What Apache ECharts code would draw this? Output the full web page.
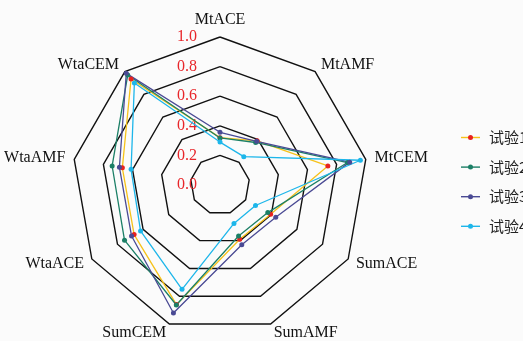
<!DOCTYPE html>
<html>
<head>
<meta charset="utf-8">
<script src="https://cdn.jsdelivr.net/npm/echarts@6/dist/echarts.min.js"></script>
<style>
  html, body { margin: 0; padding: 0; background: #fbfbfb; }
  #chart { width: 523px; height: 341px; }
</style>
</head>
<body>
<div id="chart"></div>
<script>
// Indicators, listed clockwise from the top
const indicators = ['MtACE', 'MtAMF', 'MtCEM', 'SumACE', 'SumAMF', 'SumCEM', 'WtaACE', 'WtaAMF', 'WtaCEM'];
const seriesNames = ['试验1', '试验2', '试验3', '试验4'];

// Values per trial, same order as indicators
const trial1 = [0.32, 0.39, 0.74, 0.395, 0.39, 0.86, 0.67, 0.67, 0.935];
const trial2 = [0.318, 0.375, 0.875, 0.373, 0.367, 0.863, 0.745, 0.74, 0.97];
const trial3 = [0.356, 0.385, 0.89, 0.435, 0.43, 0.92, 0.69, 0.69, 0.985];
const trial4 = [0.29, 0.25, 0.963, 0.277, 0.276, 0.75, 0.62, 0.61, 0.90];

// Radial tick labels
const radialTicks = ['0.0', '0.2', '0.4', '0.6', '0.8', '1.0'];

const lineColors = ['#f6c21a', '#1b7f66', '#4a4a94', '#1db6ea'];
const dotColors  = ['#e8221f', '#1b7f66', '#4a4a94', '#1db6ea'];

// ECharts lays radar axes out counter-clockwise, so walk the list backwards
const order = [0].concat(indicators.map((_, i) => i).slice(1).reverse());
const allData = [trial1, trial2, trial3, trial4];

const center = [220, 185];
const radius = 148;
const serif = 'Liberation Serif, Times New Roman, serif';

const chart = echarts.init(document.getElementById('chart'), null, { renderer: 'canvas' });

const legendBase = {
  orient: 'vertical',
  left: 461,
  top: 130,
  padding: 0,
  itemWidth: 23,
  itemHeight: 14,
  itemGap: 14.6
};

chart.setOption({
  animation: false,
  backgroundColor: '#fbfbfb',
  radar: [
    {
      center: center,
      radius: radius,
      startAngle: 90,
      shape: 'polygon',
      splitNumber: 5,
      indicator: order.map(i => ({ name: indicators[i], min: 0, max: 1 })),
      nameGap: 9,
      axisName: { color: '#111', fontFamily: serif, fontSize: 16 },
      axisLine: { show: false },
      axisTick: { show: false },
      axisLabel: { show: false },
      splitArea: { show: false },
      splitLine: { lineStyle: { color: '#111', width: 1.4 } }
    },
    {
      // single vertical axis carrying the radial scale labels
      center: center,
      radius: radius,
      startAngle: 90,
      shape: 'polygon',
      splitNumber: 5,
      indicator: [{ name: '', min: 0, max: 1 }],
      axisName: { show: false },
      axisLine: { show: false },
      axisTick: { show: false },
      splitArea: { show: false },
      splitLine: { show: false },
      axisLabel: {
        show: true,
        color: '#e8262a',
        fontFamily: serif,
        fontSize: 16,
        margin: 23,
        formatter: (v) => radialTicks[Math.round(v / 0.2)]
      }
    }
  ],
  legend: [
    Object.assign({}, legendBase, {
      icon: 'path://M0,0M0,6.3H19V7.7H0ZM23,14',
      textStyle: { color: '#222', fontFamily: 'Noto Sans CJK SC', fontSize: 15, lineHeight: 14 },
      data: seriesNames.map((n, i) => ({ name: n, itemStyle: { color: lineColors[i] } }))
    }),
    Object.assign({}, legendBase, {
      icon: 'path://M0,0M7,7A2.5,2.5 0 1 1 12,7A2.5,2.5 0 1 1 7,7ZM23,14',
      textStyle: { color: 'rgba(0,0,0,0)', fontFamily: 'Noto Sans CJK SC', fontSize: 15, lineHeight: 14 },
      data: seriesNames.map((n, i) => ({ name: n, itemStyle: { color: dotColors[i] } }))
    })
  ],
  series: [{
    type: 'radar',
    radarIndex: 0,
    symbol: 'circle',
    symbolSize: 5,
    data: allData.map((vals, k) => ({
      name: seriesNames[k],
      value: order.map(i => vals[i]),
      lineStyle: { color: lineColors[k], width: 1.3 },
      itemStyle: { color: dotColors[k] }
    }))
  }]
});
</script>
</body>
</html>
